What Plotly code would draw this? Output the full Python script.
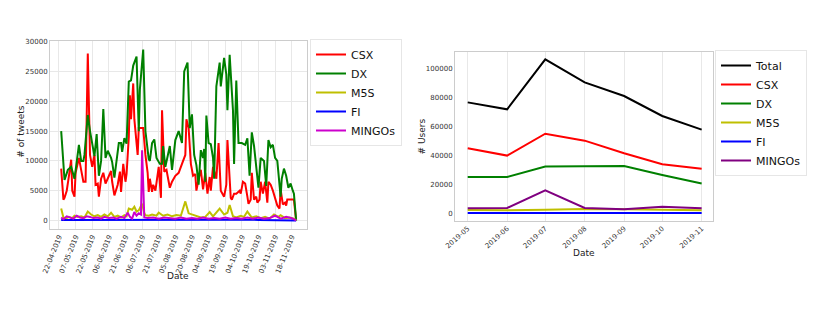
import pandas as pd
import plotly.graph_objects as go

# ---------------- Left chart data: daily tweets (days since 22-04-2019) ----------------
START = pd.Timestamp("2019-04-22")

csx_day = [2, 4, 5, 7, 9, 11, 12, 14, 15, 18, 20, 22, 24, 26, 28, 30, 32, 33, 35, 36, 38,
           40, 42, 45, 47, 48, 50, 53, 55, 56, 58, 60, 61, 63, 64, 65, 67, 68, 71, 72, 75,
           76, 78, 80, 81, 82, 84, 85, 87, 89, 90, 92, 93, 95, 97, 100, 102, 105, 108, 111,
           114, 115, 117, 119, 121, 123, 124, 126, 128, 130, 132, 134, 136, 137, 139, 142,
           144, 146, 147, 149, 151, 152, 155, 156, 158, 160, 163, 164, 166, 168, 170, 171,
           173, 174, 176, 178, 179, 181, 182, 184, 186, 188, 189, 191, 193, 196, 197, 199,
           200, 202, 204, 205, 206, 208, 209, 212, 214]
csx_val = [8700, 3500, 3800, 5000, 7500, 10200, 5000, 4000, 8000, 10500, 8500, 6500, 6500,
           28000, 11000, 9000, 11000, 6000, 6200, 4000, 7000, 8000, 6200, 7500, 8300, 6500,
           4200, 6000, 8200, 4800, 9500, 6500, 7800, 14000, 21000, 17000, 23000, 17000, 11000,
           15500, 15500, 15500, 11000, 8000, 4800, 7000, 4800, 6000, 5000, 8000, 9000, 3800,
           18500, 8200, 8500, 5500, 6500, 7500, 8000, 9500, 11000, 17000, 15500, 9500, 7500,
           7800, 5000, 7000, 8500, 5200, 8000, 4500, 7300, 5000, 9000, 7000, 13000, 5000, 4700,
           4000, 6000, 13500, 3800, 3500, 4500, 4500, 5000, 4500, 6500, 6200, 4000, 2800, 3500,
           8000, 3500, 4000, 3000, 3500, 6500, 4500, 6500, 3000, 6500, 6000, 5000, 3000, 2500,
           2000, 5200, 2700, 3000, 2500, 3500, 3500, 3500, 3500, 0]

dx_day = [2, 5, 8, 11, 14, 18, 20, 22, 23, 26, 28, 31, 32, 34, 36, 38, 40, 42, 44, 47, 48,
          50, 52, 54, 56, 57, 59, 61, 63, 65, 67, 70, 72, 73, 76, 78, 81, 82, 84, 86, 88, 91,
          93, 94, 96, 100, 102, 105, 108, 111, 113, 116, 118, 120, 122, 124, 126, 128, 130,
          131, 132, 133, 135, 137, 139, 140, 142, 145, 146, 149, 151, 152, 154, 157, 158, 160,
          162, 165, 168, 170, 172, 174, 176, 178, 180, 182, 185, 187, 189, 191, 193, 195, 197,
          200, 201, 203, 205, 207, 209, 211, 212, 214]
dx_val = [15000, 6800, 8500, 9000, 7000, 12700, 10000, 10000, 11000, 17700, 15000, 12000,
          10800, 14500, 7500, 10000, 18700, 10500, 11700, 10500, 9800, 7200, 9800, 13000,
          13000, 11500, 13800, 12900, 23300, 23500, 26000, 27500, 15000, 22000, 28700, 15000,
          10300, 10000, 13000, 13600, 10500, 9500, 9500, 12500, 9000, 12500, 8500, 13500,
          15000, 13000, 25000, 26500, 15500, 17800, 11000, 9300, 6000, 11800, 10500, 12000,
          6500, 17600, 13000, 12800, 10500, 7000, 22500, 26500, 22500, 27300, 24500, 18500,
          27800, 18500, 9500, 23500, 13000, 13000, 12700, 13800, 7500, 14800, 12500, 9000,
          5500, 10500, 10000, 5800, 13500, 12300, 12700, 10500, 10000, 4000, 7000, 8700, 7500,
          5500, 6200, 5000, 4500, 0]

m5s_day = [2, 4, 6, 9, 12, 14, 17, 20, 23, 26, 29, 32, 35, 38, 41, 44, 47, 50, 53, 56, 59,
           61, 63, 66, 68, 70, 72, 75, 77, 78, 81, 84, 88, 90, 94, 98, 102, 106, 110, 114, 117,
           121, 125, 128, 132, 136, 139, 142, 145, 149, 152, 154, 157, 160, 164, 167, 170, 174,
           178, 182, 186, 190, 194, 198, 200, 204, 208, 212, 214]
m5s_val = [2000, 500, 300, 600, 400, 800, 600, 700, 500, 1500, 1000, 700, 900, 600, 1000,
           700, 1300, 600, 800, 500, 900, 700, 2000, 1800, 2300, 1500, 1700, 2800, 1200, 900,
           800, 1000, 800, 1300, 800, 1000, 700, 900, 800, 3200, 1200, 900, 700, 500, 600,
           1400, 700, 1300, 2000, 1000, 1300, 2600, 700, 500, 800, 600, 1500, 500, 700, 400,
           600, 300, 1000, 600, 900, 400, 500, 300, 0]

fi_day = [2, 30, 60, 90, 120, 150, 180, 210, 214]
fi_val = [100, 120, 150, 120, 100, 130, 100, 100, 0]

mingos_day = [2, 4, 7, 10, 13, 16, 19, 22, 25, 28, 31, 35, 38, 41, 45, 49, 52, 56, 59, 62,
              64, 66, 68, 70, 72, 74, 75, 77, 80, 85, 90, 95, 100, 105, 110, 115, 120, 125,
              130, 135, 140, 145, 150, 155, 160, 165, 170, 175, 180, 185, 190, 195, 200, 205,
              210, 214]
mingos_val = [500, 200, 700, 500, 300, 800, 500, 400, 700, 600, 400, 500, 300, 600, 400,
              500, 300, 600, 400, 1300, 600, 300, 1400, 800, 1200, 1000, 11800, 500, 400, 500,
              300, 500, 400, 300, 500, 300, 400, 300, 500, 300, 400, 300, 500, 300, 400, 300,
              500, 300, 500, 300, 400, 800, 300, 600, 400, 0]

left_tick_labels = ["22-04-2019", "07-05-2019", "22-05-2019", "06-06-2019", "21-06-2019",
                    "06-07-2019", "21-07-2019", "05-08-2019", "20-08-2019", "04-09-2019",
                    "19-09-2019", "04-10-2019", "19-10-2019", "03-11-2019", "18-11-2019"]
left_y_ticks = [0, 5000, 10000, 15000, 20000, 25000, 30000]

# ---------------- Right chart data: monthly users ----------------
months = ["2019-05", "2019-06", "2019-07", "2019-08", "2019-09", "2019-10", "2019-11"]
total_users = [76500, 71700, 106200, 90300, 80900, 67100, 57700]
csx_users = [44800, 39800, 54900, 50100, 41400, 33800, 30800]
dx_users = [25000, 25000, 32200, 32600, 32600, 26400, 20500]
m5s_users = [2300, 2100, 2500, 3000, 2800, 2300, 2100]
fi_users = [200, 200, 200, 200, 200, 200, 200]
mingos_users = [3400, 3700, 15900, 3700, 2800, 4600, 3400]
right_y_ticks = [0, 20000, 40000, 60000, 80000, 100000]

# ---------------- Build figure ----------------
# The page body has an 8px margin, so the figure is drawn 8px in from the window edge.
OFF = 8
W, H = 830 - 2 * OFF, 333 - 2 * OFF
FONT = "DejaVu Sans"
TICK_COLOR = "#333333"
GRID = "#e8e8e8"
FRAME = "#cccccc"


def days_to_dates(days):
    return [START + pd.Timedelta(days=int(d)) for d in days]


fig = go.Figure()

left_series = [
    ("CSX", csx_day, csx_val, "#ff0000"),
    ("DX", dx_day, dx_val, "#008000"),
    ("M5S", m5s_day, m5s_val, "#bfbf00"),
    ("FI", fi_day, fi_val, "#0000ff"),
    ("MINGOs", mingos_day, mingos_val, "#cc00cc"),
]
for name, d, v, c in left_series:
    fig.add_trace(go.Scatter(x=days_to_dates(d), y=v, mode="lines", name=name,
                             line=dict(color=c, width=2), xaxis="x", yaxis="y",
                             legend="legend"))

right_series = [
    ("Total", total_users, "#000000"),
    ("CSX", csx_users, "#ff0000"),
    ("DX", dx_users, "#008000"),
    ("M5S", m5s_users, "#bfbf00"),
    ("FI", fi_users, "#0000ff"),
    ("MINGOs", mingos_users, "#800080"),
]
month_dates = pd.to_datetime(months, format="%Y-%m")
for name, v, c in right_series:
    fig.add_trace(go.Scatter(x=month_dates, y=v, mode="lines", name=name,
                             line=dict(color=c, width=2), xaxis="x2", yaxis="y2",
                             legend="legend2"))


def px_x(p):
    return (p - OFF) / W


def px_y(p):
    return 1 - (p - OFF) / H


left_tickvals = pd.to_datetime(left_tick_labels, format="%d-%m-%Y")

axis_common = dict(showline=True, linecolor=FRAME, linewidth=1, mirror=True, ticks="",
                   tickfont=dict(family=FONT, size=7, color=TICK_COLOR), zeroline=False,
                   automargin=False)

fig.update_layout(
    width=W, height=H,
    margin=dict(l=0, r=0, t=0, b=0),
    paper_bgcolor="white", plot_bgcolor="white",
    font=dict(family=FONT, color="#222222"),
    xaxis=dict(domain=[px_x(50), px_x(307)], anchor="y",
               range=[START - pd.Timedelta(days=8.1), START + pd.Timedelta(days=223.8)],
               tickvals=left_tickvals, ticktext=left_tick_labels, tickangle=-68,
               showgrid=True, gridcolor=GRID, gridwidth=1, **axis_common),
    yaxis=dict(domain=[px_y(229), px_y(41)], anchor="x", range=[-1430, 30120],
               tickvals=left_y_ticks, ticktext=[str(t) for t in left_y_ticks],
               showgrid=True, gridcolor=GRID, gridwidth=1, **axis_common),
    xaxis2=dict(domain=[px_x(455), px_x(713)], anchor="y2",
                range=[pd.Timestamp("2019-04-21"), pd.Timestamp("2019-11-09 22:00")],
                tickvals=month_dates, ticktext=months, tickangle=-42,
                showgrid=True, gridcolor=GRID, gridwidth=1, **axis_common),
    yaxis2=dict(domain=[px_y(220.7), px_y(51.7)], anchor="x2", range=[-5100, 111450],
                tickvals=right_y_ticks, ticktext=[str(t) for t in right_y_ticks],
                showgrid=False, **axis_common),
    legend=dict(x=px_x(310), y=px_y(39), xanchor="left", yanchor="top",
                bgcolor="white", bordercolor="#e6e6e6", borderwidth=1,
                font=dict(family=FONT, size=11, color="#111111"), itemwidth=30,
                tracegroupgap=0),
    legend2=dict(x=px_x(715), y=px_y(50), xanchor="left", yanchor="top",
                 bgcolor="white", bordercolor="#e6e6e6", borderwidth=1,
                 font=dict(family=FONT, size=11, color="#111111"), itemwidth=30,
                 tracegroupgap=0),
    showlegend=True,
)

title_font = dict(family=FONT, size=9, color="#222222")
titles = [
    ("# of tweets", 20.7, 132, -90),
    ("Date", 178, 276, 0),
    ("# Users", 421.7, 136.7, -90),
    ("Date", 584, 252.7, 0),
]
for text, tx, ty, ang in titles:
    fig.add_annotation(text=text, x=px_x(tx), y=px_y(ty), xref="paper", yref="paper",
                       xanchor="center", yanchor="middle", textangle=ang,
                       showarrow=False, font=title_font)

fig.write_html("out.html")
